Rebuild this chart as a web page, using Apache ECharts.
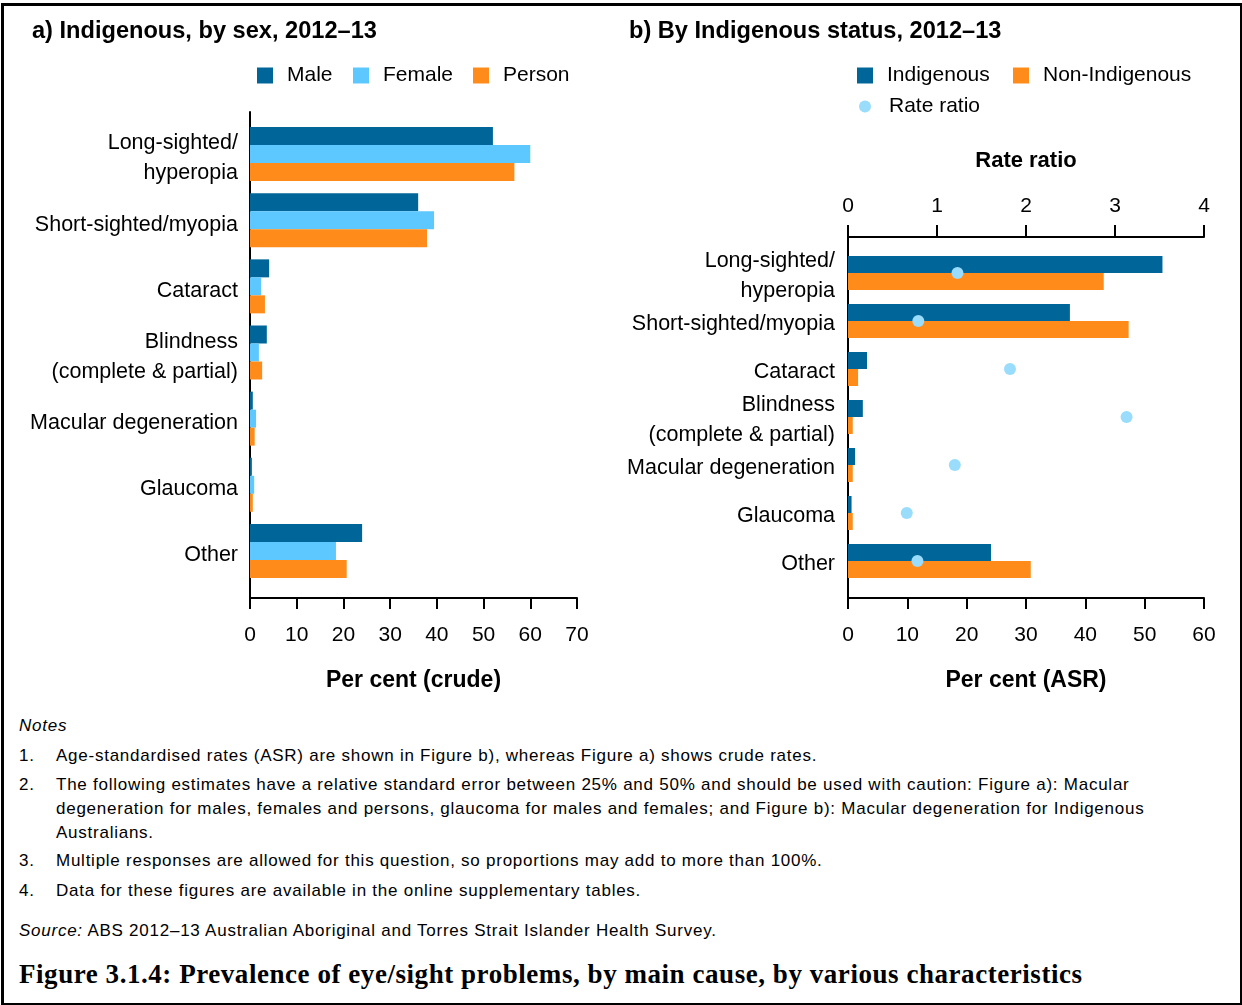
<!DOCTYPE html>
<html>
<head>
<meta charset="utf-8">
<script src="https://cdn.jsdelivr.net/npm/echarts@6/dist/echarts.min.js"></script>
<style>
  html, body { margin: 0; padding: 0; background: #fff; }
  #page { position: relative; width: 1242px; height: 1005px; overflow: hidden; font-family: "Liberation Sans", Arial, sans-serif; color: #000; }
  #chart { position: absolute; left: 0; top: 0; width: 1242px; height: 705px; }
  #frame { position: absolute; left: 1px; top: 3px; width: 1236px; height: 997px; border: 3px solid #000; pointer-events: none; }
  .t { position: absolute; font-size: 17px; line-height: 24px; letter-spacing: 0.75px; white-space: nowrap; }
  .num { position: absolute; left: 19px; }
  .txt { position: absolute; left: 56px; }
  #fig { position: absolute; left: 19px; top: 958px; font-family: "Liberation Serif", "Times New Roman", serif; font-weight: bold; font-size: 27px; letter-spacing: 0.55px; line-height: 32px; white-space: nowrap; }
</style>
</head>
<body>
<div id="page">
  <div id="chart"></div>
  <div class="t" style="left:19px; top:714px; font-style:italic;">Notes</div>
  <div class="t" style="top:744px; left:0; width:1242px;"><span class="num">1.</span><span class="txt">Age-standardised rates (ASR) are shown in Figure b), whereas Figure a) shows crude rates.</span></div>
  <div class="t" style="top:773px; left:0; width:1242px;"><span class="num">2.</span><span class="txt">The following estimates have a relative standard error between 25% and 50% and should be used with caution: Figure a): Macular<br>degeneration for males, females and persons, glaucoma for males and females; and Figure b): Macular degeneration for Indigenous<br>Australians.</span></div>
  <div class="t" style="top:849px; left:0; width:1242px;"><span class="num">3.</span><span class="txt">Multiple responses are allowed for this question, so proportions may add to more than 100%.</span></div>
  <div class="t" style="top:879px; left:0; width:1242px;"><span class="num">4.</span><span class="txt">Data for these figures are available in the online supplementary tables.</span></div>
  <div class="t" style="left:19px; top:919px;"><i>Source:</i> ABS 2012–13 Australian Aboriginal and Torres Strait Islander Health Survey.</div>
  <div id="fig">Figure 3.1.4: Prevalence of eye/sight problems, by main cause, by various characteristics</div>
  <div id="frame"></div>
</div>
<script>
const categories = ['Long-sighted/\nhyperopia', 'Short-sighted/myopia', 'Cataract', 'Blindness\n(complete & partial)', 'Macular degeneration', 'Glaucoma', 'Other'];
const male = [52.0, 36.0, 4.1, 3.6, 0.6, 0.4, 24.0];
const female = [60.0, 39.4, 2.4, 1.9, 1.3, 0.9, 18.4];
const person = [56.6, 37.9, 3.2, 2.6, 1.0, 0.6, 20.7];
const indigenous = [53.0, 37.4, 3.2, 2.5, 1.2, 0.6, 24.1];
const nonIndigenous = [43.1, 47.3, 1.7, 0.8, 0.8, 0.8, 30.8];
const rateRatio = [1.23, 0.79, 1.82, 3.13, 1.20, 0.66, 0.78];
const leftTicks = { min: 0, max: 70, interval: 10 };
const rightTicks = { min: 0, max: 60, interval: 10 };
const ratioTicks = { min: 0, max: 4, interval: 1 };

const FONT = '"Liberation Sans", Arial, sans-serif';
const C_DARK = '#006699', C_LIGHT = '#5CC8FF', C_ORANGE = '#FF8C1A', C_DOT = '#99DCFB';
const axisLineStyle = { color: '#000', width: 2 };

function legendItem(name, left, top, icon, size) {
  return {
    data: [name], left: left, top: top, padding: 0, orient: 'horizontal',
    icon: icon, itemWidth: size, itemHeight: size, selectedMode: false,
    textStyle: { fontSize: 21, color: '#000', fontFamily: FONT, padding: [0, 0, 0, size === 16 ? 9 : 13] }
  };
}
function hiddenX(grid) { return { gridIndex: grid, type: 'value', show: false, min: 0, max: 1 }; }
function lineY(grid) {
  return { gridIndex: grid, type: 'value', min: 0, max: 1, axisLine: { show: true, lineStyle: axisLineStyle },
    axisTick: { show: false }, axisLabel: { show: false }, splitLine: { show: false } };
}
function labelY(grid, margin) {
  return { gridIndex: grid, type: 'category', inverse: true, data: categories,
    axisLine: { show: false }, axisTick: { show: false }, splitLine: { show: false },
    axisLabel: { interval: 0, fontSize: 21.5, color: '#000', margin: margin, lineHeight: 30, align: 'right' } };
}

const chart = echarts.init(document.getElementById('chart'), null, { renderer: 'canvas' });
chart.setOption({
  animation: false,
  textStyle: { fontFamily: FONT },
  title: [
    { text: 'a) Indigenous, by sex, 2012–13', left: 32, top: 19, padding: 0, textStyle: { fontSize: 23.6, fontWeight: 'bold', color: '#000', fontFamily: FONT } },
    { text: 'b) By Indigenous status, 2012–13', left: 629, top: 19, padding: 0, textStyle: { fontSize: 23.6, fontWeight: 'bold', color: '#000', fontFamily: FONT } }
  ],
  legend: [
    legendItem('Male', 257, 65, 'rect', 16),
    legendItem('Female', 353, 65, 'rect', 16),
    legendItem('Person', 473, 65, 'rect', 16),
    legendItem('Indigenous', 857, 65, 'rect', 16),
    legendItem('Non-Indigenous', 1013, 65, 'rect', 16),
    legendItem('Rate ratio', 859, 96, 'circle', 12)
  ],
  grid: [
    { left: 250, top: 121, width: 327, height: 463 },   // 0 left bars
    { left: 250, top: 112, width: 327, height: 486 },   // 1 left axis line
    { left: 848, top: 249, width: 356, height: 336 },   // 2 right bars
    { left: 848, top: 237, width: 356, height: 361 },   // 3 right axis line
    { left: 250, top: 125.5, width: 327, height: 463 }, // 4 left labels
    { left: 848, top: 252.5, width: 356, height: 336 }  // 5 right labels
  ],
  xAxis: [
    { gridIndex: 0, type: 'value', position: 'bottom', offset: 14, min: leftTicks.min, max: leftTicks.max, interval: leftTicks.interval,
      axisLine: { show: true, lineStyle: axisLineStyle }, axisTick: { show: true, length: 11, lineStyle: axisLineStyle },
      axisLabel: { fontSize: 21, color: '#000', margin: 27 }, splitLine: { show: false },
      name: 'Per cent (crude)', nameLocation: 'middle', nameGap: 71,
      nameTextStyle: { fontSize: 23, fontWeight: 'bold', color: '#000' } },
    hiddenX(1),
    { gridIndex: 2, type: 'value', position: 'bottom', offset: 13, min: rightTicks.min, max: rightTicks.max, interval: rightTicks.interval,
      axisLine: { show: true, lineStyle: axisLineStyle }, axisTick: { show: true, length: 11, lineStyle: axisLineStyle },
      axisLabel: { fontSize: 21, color: '#000', margin: 27 }, splitLine: { show: false },
      name: 'Per cent (ASR)', nameLocation: 'middle', nameGap: 71,
      nameTextStyle: { fontSize: 23, fontWeight: 'bold', color: '#000' } },
    { gridIndex: 2, type: 'value', position: 'top', offset: 12, min: ratioTicks.min, max: ratioTicks.max, interval: ratioTicks.interval,
      axisLine: { show: true, lineStyle: axisLineStyle }, axisTick: { show: true, length: 12, lineStyle: axisLineStyle },
      axisLabel: { fontSize: 21, color: '#000', margin: 20 }, splitLine: { show: false },
      name: 'Rate ratio', nameLocation: 'middle', nameGap: 65,
      nameTextStyle: { fontSize: 22, fontWeight: 'bold', color: '#000' } },
    hiddenX(3),
    hiddenX(4),
    hiddenX(5)
  ],
  yAxis: [
    { gridIndex: 0, type: 'category', inverse: true, data: categories,
      axisLine: { show: false }, axisTick: { show: false }, axisLabel: { show: false } },
    lineY(1),
    { gridIndex: 2, type: 'category', inverse: true, data: categories,
      axisLine: { show: false }, axisTick: { show: false }, axisLabel: { show: false } },
    lineY(3),
    labelY(4, 12),
    labelY(5, 13)
  ],
  series: [
    { name: 'Male', type: 'bar', xAxisIndex: 0, yAxisIndex: 0, data: male, barWidth: 18, barGap: '0%', itemStyle: { color: C_DARK } },
    { name: 'Female', type: 'bar', xAxisIndex: 0, yAxisIndex: 0, data: female, barWidth: 18, barGap: '0%', itemStyle: { color: C_LIGHT } },
    { name: 'Person', type: 'bar', xAxisIndex: 0, yAxisIndex: 0, data: person, barWidth: 18, barGap: '0%', itemStyle: { color: C_ORANGE } },
    { name: 'Indigenous', type: 'bar', xAxisIndex: 2, yAxisIndex: 2, data: indigenous, barWidth: 17, barGap: '0%', itemStyle: { color: C_DARK } },
    { name: 'Non-Indigenous', type: 'bar', xAxisIndex: 2, yAxisIndex: 2, data: nonIndigenous, barWidth: 17, barGap: '0%', itemStyle: { color: C_ORANGE } },
    { name: 'Rate ratio', type: 'scatter', xAxisIndex: 3, yAxisIndex: 2, z: 5, symbol: 'circle', symbolSize: 12,
      data: rateRatio.map((v, i) => [v, i]), itemStyle: { color: C_DOT, opacity: 1 } }
  ]
});
</script>
</body>
</html>
